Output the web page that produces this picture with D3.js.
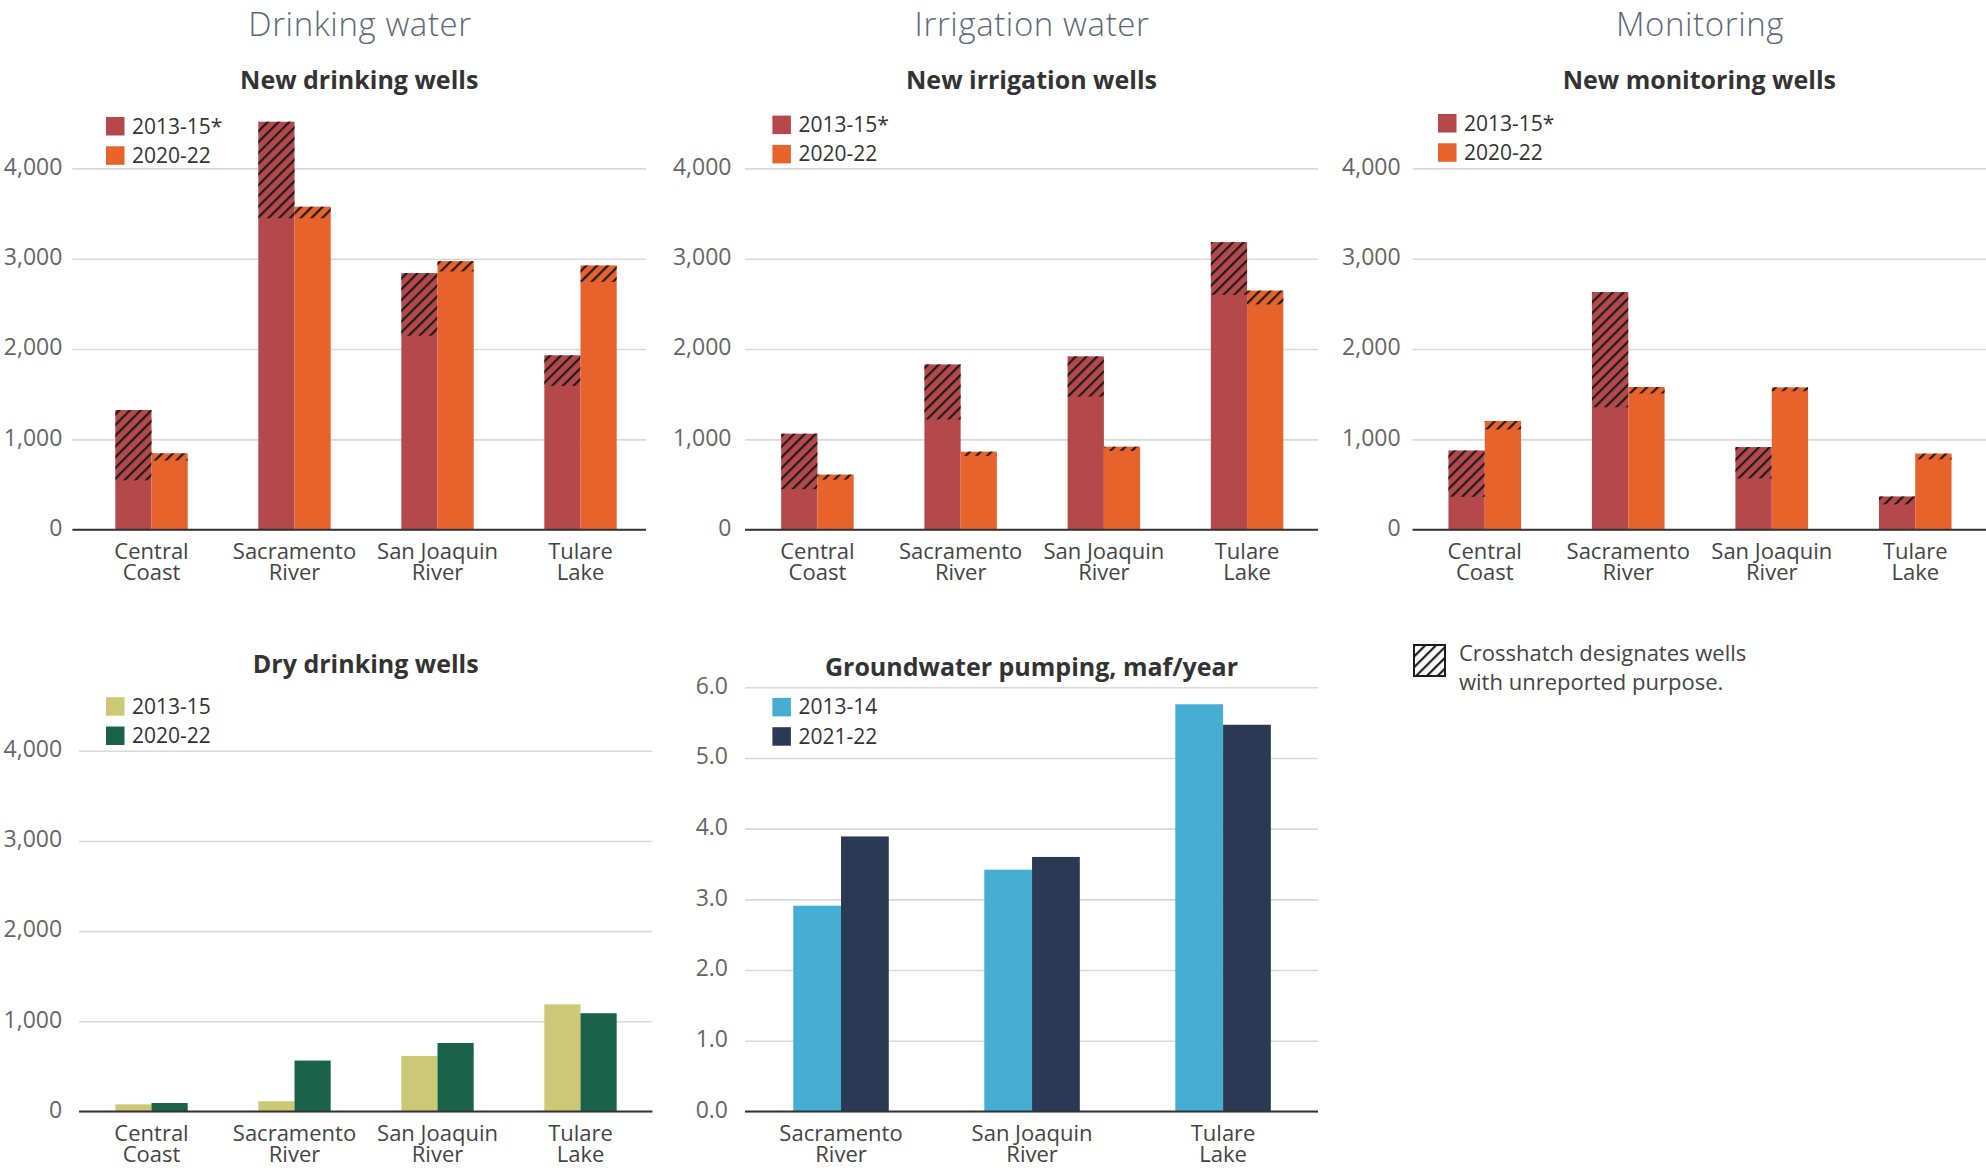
<!DOCTYPE html>
<html>
<head>
<meta charset="utf-8">
<script src="https://cdnjs.cloudflare.com/ajax/libs/d3/7.8.5/d3.min.js"></script>
<style>
  body { margin: 0; background: #fff; }
  svg { font-family: "Open Sans", Lato, "Noto Sans", sans-serif; }
</style>
</head>
<body>
<svg id="chart" width="1986" height="1170"></svg>
<script>
////////////////////////////////// data //////////////////////////////////
var regions = ["Central Coast", "Sacramento River", "San Joaquin River", "Tulare Lake"];
var pumpRegions = ["Sacramento River", "San Joaquin River", "Tulare Lake"];

var newPeriods = ["2013-15*", "2020-22"];
var dryPeriods = ["2013-15", "2020-22"];
var pumpPeriods = ["2013-14", "2021-22"];

// new wells: total, and the part with a reported purpose (the rest gets hatched)
var drinkTotal2013 = [1325, 4517, 2841, 1931];
var drinkKnown2013 = [546, 3448, 2147, 1592];
var drinkTotal2020 = [846, 3576, 2973, 2926];
var drinkKnown2020 = [766, 3448, 2859, 2744];

var irrTotal2013 = [1063, 1830, 1919, 3184];
var irrKnown2013 = [449, 1220, 1474, 2600];
var irrTotal2020 = [610, 864, 919, 2647];
var irrKnown2020 = [554, 817, 872, 2494];

var monTotal2013 = [877, 2631, 915, 368];
var monKnown2013 = [364, 1355, 567, 280];
var monTotal2020 = [1203, 1580, 1576, 843];
var monKnown2020 = [1110, 1508, 1533, 779];

var dry2013 = [78, 113, 615, 1187];
var dry2020 = [93, 564, 759, 1089];

var pump2013 = [2.91, 3.42, 5.76];
var pump2021 = [3.89, 3.60, 5.47];

var wellTicks = [0, 1000, 2000, 3000, 4000];
var pumpTicks = [0, 1, 2, 3, 4, 5, 6];

var red = "#b5484a", orange = "#e8622c",
    khaki = "#cdc876", green = "#1b624a",
    blue = "#45aed2", navy = "#2a3a55";

var svg = d3.select("#chart");

// hatch for wells with unreported purpose
svg.append("defs").append("pattern")
  .attr("id", "hatch")
  .attr("patternUnits", "userSpaceOnUse")
  .attr("width", 7.6).attr("height", 7.6)
  .attr("patternTransform", "rotate(45)")
  .append("line")
    .attr("x1", 2).attr("y1", 0).attr("x2", 2).attr("y2", 7.6)
    .attr("stroke", "#1c1c1c").attr("stroke-width", 2.2);

// big section headers
var headers = [["Drinking water", 360], ["Irrigation water", 1032], ["Monitoring", 1700]];
svg.selectAll(".header").data(headers).enter().append("text")
  .attr("class", "header")
  .attr("x", function (d) { return d[1]; })
  .attr("y", 36)
  .attr("text-anchor", "middle")
  .attr("font-size", 33).attr("font-weight", 300)
  .attr("letter-spacing", 0.6)
  .attr("fill", "#5e6977")
  .text(function (d) { return d[0]; });

function drawPanel(p) {
  var g = svg.append("g");
  var y = d3.scaleLinear().domain([0, p.yMax]).range([p.yBottom, p.yTop]);
  var x0 = d3.scaleBand().domain(p.cats).range(p.band).paddingInner(p.pad).paddingOuter(p.pad / 2);
  var x1 = d3.scaleBand().domain(d3.range(p.series.length)).range([0, x0.bandwidth()]);

  // gridlines + tick labels
  var yAxis = d3.axisLeft(y)
    .tickValues(p.ticks)
    .tickFormat(p.fmt)
    .tickSize(-(p.axisX[1] - p.axisX[0]))
    .tickPadding(p.tickPad);
  var ga = g.append("g")
    .attr("transform", "translate(" + p.axisX[0] + ",0)")
    .call(yAxis)
    .attr("font-family", null).attr("font-size", null);
  ga.select(".domain").remove();
  ga.selectAll(".tick line").attr("stroke", "#d9d9d9").attr("stroke-width", 1.6);
  ga.selectAll(".tick text").attr("fill", "#666").attr("font-size", 23).attr("dy", "0.25em");

  // bars
  p.series.forEach(function (s, si) {
    g.selectAll(null).data(s.values).enter().append("rect")
      .attr("x", function (d, i) { return x0(p.cats[i]) + x1(si); })
      .attr("y", function (d) { return y(d); })
      .attr("width", x1.bandwidth())
      .attr("height", function (d) { return y(0) - y(d); })
      .attr("fill", s.color);
    if (s.known) {
      g.selectAll(null).data(s.values).enter().append("rect")
        .attr("x", function (d, i) { return x0(p.cats[i]) + x1(si); })
        .attr("y", function (d) { return y(d); })
        .attr("width", x1.bandwidth())
        .attr("height", function (d, i) { return y(s.known[i]) - y(d); })
        .attr("fill", "url(#hatch)");
    }
  });

  // baseline
  g.append("line")
    .attr("x1", p.axisX[0]).attr("x2", p.axisX[1])
    .attr("y1", y(0)).attr("y2", y(0))
    .attr("stroke", "#333").attr("stroke-width", 2);

  // category labels, two lines
  var lab = g.selectAll(null).data(p.cats).enter().append("text")
    .attr("text-anchor", "middle")
    .attr("font-size", 22).attr("fill", "#444")
    .attr("transform", function (d) { return "translate(" + (x0(d) + x0.bandwidth() / 2) + "," + (y(0) + 29.5) + ")"; });
  lab.append("tspan").attr("x", 0).attr("y", 0)
    .text(function (d) { return d.slice(0, d.lastIndexOf(" ")); });
  lab.append("tspan").attr("x", 0).attr("y", 21)
    .text(function (d) { return d.slice(d.lastIndexOf(" ") + 1); });

  // subtitle
  g.append("text")
    .attr("x", (p.axisX[0] + p.axisX[1]) / 2).attr("y", p.titleY)
    .attr("text-anchor", "middle")
    .attr("font-size", 25).attr("font-weight", 700).attr("fill", "#333")
    .text(p.title);

  // legend
  var lg = g.selectAll(null).data(p.series).enter().append("g")
    .attr("transform", function (d, i) { return "translate(" + p.legend[0] + "," + (p.legend[1] + i * 29.3) + ")"; });
  lg.append("rect").attr("width", 18.5).attr("height", 18.5).attr("fill", function (d) { return d.color; });
  lg.append("text").attr("x", 26).attr("y", 16.5)
    .attr("font-size", 21).attr("fill", "#333")
    .text(function (d) { return d.name; });
}

var top0 = 529.7, top4k = 168.4;

drawPanel({
  cats: regions, band: [80, 652], pad: 0.494, axisX: [72.4, 646],
  yMax: 4000, yBottom: top0, yTop: top4k, ticks: wellTicks, fmt: d3.format(","), tickPad: 10,
  title: "New drinking wells", titleY: 88.5, legend: [106, 117],
  series: [
    { name: newPeriods[0], color: red, values: drinkTotal2013, known: drinkKnown2013 },
    { name: newPeriods[1], color: orange, values: drinkTotal2020, known: drinkKnown2020 }
  ]
});

drawPanel({
  cats: regions, band: [745.8, 1318.7], pad: 0.494, axisX: [745, 1318],
  yMax: 4000, yBottom: top0, yTop: top4k, ticks: wellTicks, fmt: d3.format(","), tickPad: 13.5,
  title: "New irrigation wells", titleY: 88.5, legend: [772.4, 115.6],
  series: [
    { name: newPeriods[0], color: red, values: irrTotal2013, known: irrKnown2013 },
    { name: newPeriods[1], color: orange, values: irrTotal2020, known: irrKnown2020 }
  ]
});

drawPanel({
  cats: regions, band: [1413, 1987], pad: 0.494, axisX: [1412.6, 1986],
  yMax: 4000, yBottom: top0, yTop: top4k, ticks: wellTicks, fmt: d3.format(","), tickPad: 12,
  title: "New monitoring wells", titleY: 88.5, legend: [1438, 114],
  series: [
    { name: newPeriods[0], color: red, values: monTotal2013, known: monKnown2013 },
    { name: newPeriods[1], color: orange, values: monTotal2020, known: monKnown2020 }
  ]
});

drawPanel({
  cats: regions, band: [80, 652], pad: 0.494, axisX: [79.1, 652.4],
  yMax: 4000, yBottom: 1111.4, yTop: 750.8, ticks: wellTicks, fmt: d3.format(","), tickPad: 17,
  title: "Dry drinking wells", titleY: 672.6, legend: [106, 697.2],
  series: [
    { name: dryPeriods[0], color: khaki, values: dry2013 },
    { name: dryPeriods[1], color: green, values: dry2020 }
  ]
});

drawPanel({
  cats: pumpRegions, band: [745.5, 1318.6], pad: 0.5, axisX: [745, 1318],
  yMax: 6, yBottom: 1111.4, yTop: 687.3, ticks: pumpTicks, fmt: d3.format(".1f"), tickPad: 17,
  title: "Groundwater pumping, maf/year", titleY: 676, legend: [772.4, 697.9],
  series: [
    { name: pumpPeriods[0], color: blue, values: pump2013 },
    { name: pumpPeriods[1], color: navy, values: pump2021 }
  ]
});

// hatch note
var note = svg.append("g").attr("transform", "translate(1413,644)");
note.append("rect").attr("x", 1).attr("y", 1).attr("width", 31).attr("height", 31)
  .attr("fill", "url(#hatch)").attr("stroke", "#1c1c1c").attr("stroke-width", 2);
note.append("text").attr("x", 46).attr("y", 17)
  .attr("font-size", 22).attr("fill", "#444")
  .selectAll("tspan").data(["Crosshatch designates wells", "with unreported purpose."]).enter()
  .append("tspan").attr("x", 46).attr("y", function (d, i) { return 17 + i * 29; })
  .text(function (d) { return d; });
</script>
</body>
</html>
